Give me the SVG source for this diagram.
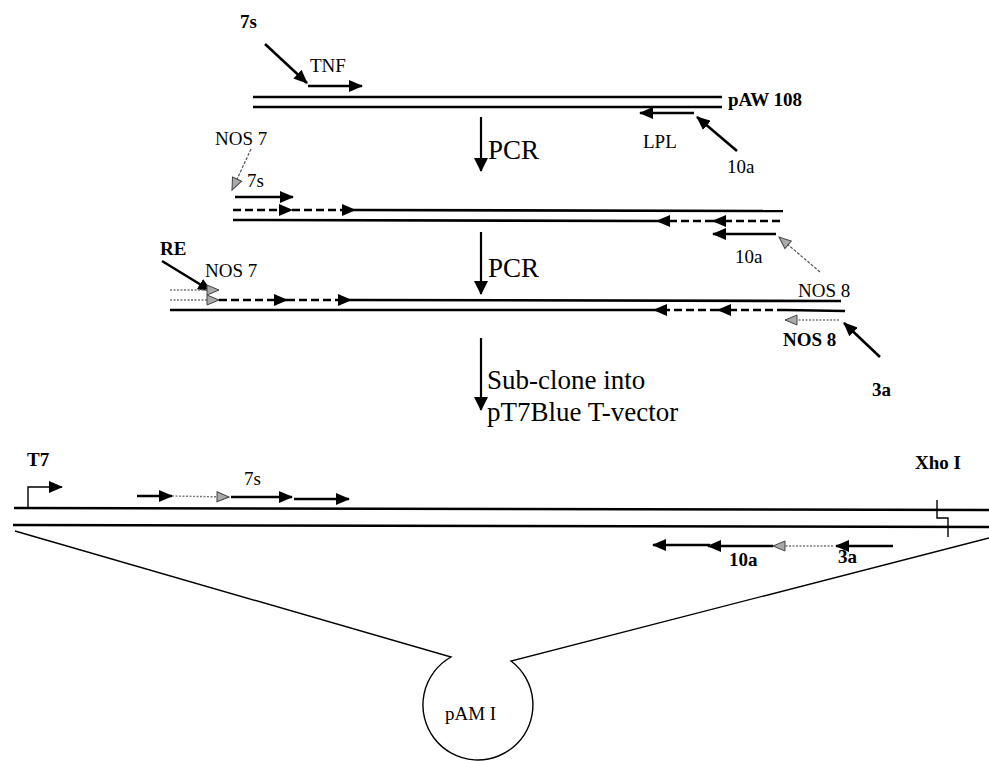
<svg xmlns="http://www.w3.org/2000/svg" width="989" height="761" viewBox="0 0 989 761">
<style>
  .strand{stroke:#000;stroke-width:2.6;fill:none}
  .arr{stroke:#000;stroke-width:2.6;fill:none;marker-end:url(#hb)}
  .dash{stroke:#000;stroke-width:2.6;fill:none;stroke-dasharray:8 4;marker-end:url(#hb)}
  .gray{stroke:#777;stroke-width:1.4;fill:none;stroke-dasharray:2 1.5;marker-end:url(#hg)}
  .thin{stroke:#555;stroke-width:1.2;fill:none;stroke-dasharray:3 1.5;marker-end:url(#hg)}
  .lbl{font-family:"Liberation Serif",serif;font-size:19px;font-weight:bold;fill:#000}
  .lblr{font-family:"Liberation Serif",serif;font-size:19px;fill:#000}
  .big{font-family:"Liberation Serif",serif;font-size:27px;fill:#000}
  .line{stroke:#000;stroke-width:1.4;fill:none}
</style>
<defs>
  <marker id="hb" markerUnits="userSpaceOnUse" markerWidth="14" markerHeight="12" refX="13" refY="6" orient="auto">
    <path d="M0,0 L14,6 L0,12 z" fill="#000"/>
  </marker>
  <marker id="hg" markerUnits="userSpaceOnUse" markerWidth="14" markerHeight="12" refX="13" refY="6" orient="auto">
    <path d="M1,1 L13,6 L1,11 z" fill="#aaa" stroke="#444" stroke-width="1"/>
  </marker>
  <marker id="hv" markerUnits="userSpaceOnUse" markerWidth="14" markerHeight="16" refX="13" refY="7" orient="auto">
    <path d="M0,0 L14,7 L0,14 z" fill="#000"/>
  </marker>
</defs>

<g id="connectors">
  <line x1="481" y1="117" x2="481" y2="171" stroke="#000" stroke-width="2.2" marker-end="url(#hv)"/>
  <line x1="481" y1="232" x2="481" y2="294" stroke="#000" stroke-width="2.2" marker-end="url(#hv)"/>
  <line x1="481" y1="338" x2="481" y2="410" stroke="#000" stroke-width="2.2" marker-end="url(#hv)"/>
</g>

<g id="stage1">
  <line class="strand" x1="253" y1="97" x2="722" y2="97"/>
  <line class="strand" x1="253" y1="107" x2="722" y2="107"/>
  <line class="arr" x1="308" y1="86" x2="362" y2="86"/>
  <line class="arr" x1="694" y1="113" x2="640" y2="113"/>
  <line class="arr" x1="265" y1="44" x2="307" y2="83"/>
  <line class="arr" x1="737" y1="151" x2="697" y2="117"/>
  <text class="lbl" x="240" y="28">7s</text>
  <text class="lblr" x="310" y="72">TNF</text>
  <text class="lbl" x="728" y="106">pAW 108</text>
  <text class="lblr" x="643" y="148">LPL</text>
  <text class="lblr" x="727" y="173">10a</text>
  <text class="big" x="488" y="159" font-size="29">PCR</text>
</g>

<g id="stage2">
  <line class="thin" x1="251" y1="149" x2="232" y2="190"/>
  <text class="lblr" x="215" y="145">NOS 7</text>
  <text class="lblr" x="247" y="187">7s</text>
  <line class="arr" x1="235" y1="197" x2="293" y2="197"/>
  <line class="dash" x1="233" y1="210" x2="292" y2="210"/>
  <line class="dash" x1="292" y1="210" x2="355" y2="210"/>
  <line class="strand" x1="355" y1="210" x2="783" y2="211"/>
  <line class="strand" x1="233" y1="220" x2="657" y2="221"/>
  <line class="dash" x1="713" y1="221" x2="657" y2="221"/>
  <line class="dash" x1="780" y1="221" x2="713" y2="221"/>
  <line class="arr" x1="776" y1="234" x2="713" y2="234"/>
  <line class="thin" x1="820" y1="272" x2="779" y2="237"/>
  <text class="lblr" x="735" y="263">10a</text>
  <text class="lblr" x="798" y="297">NOS 8</text>
  <text class="big" x="488" y="277" font-size="29">PCR</text>
</g>

<g id="stage3">
  <text class="lbl" x="160" y="255">RE</text>
  <line class="arr" x1="162" y1="261" x2="211" y2="291"/>
  <text class="lblr" x="205" y="277">NOS 7</text>
  <line class="gray" x1="170" y1="290" x2="219" y2="290"/>
  <line class="gray" x1="170" y1="300" x2="219" y2="300"/>
  <line class="dash" x1="219" y1="300" x2="287" y2="300"/>
  <line class="dash" x1="287" y1="300" x2="351" y2="300"/>
  <line class="strand" x1="351" y1="300" x2="841" y2="301"/>
  <line class="strand" x1="170" y1="310" x2="654" y2="310"/>
  <line class="dash" x1="718" y1="310" x2="654" y2="310"/>
  <line class="dash" x1="785" y1="310" x2="718" y2="310"/>
  <line class="strand" x1="785" y1="310" x2="845" y2="311"/>
  <line class="gray" x1="839" y1="320" x2="785" y2="320"/>
  <line class="arr" x1="880" y1="357" x2="844" y2="323"/>
  <text class="lbl" x="783" y="346">NOS 8</text>
  <text class="lbl" x="872" y="396">3a</text>
  <text class="big" x="487" y="389">Sub-clone into</text>
  <text class="big" x="487" y="421">pT7Blue T-vector</text>
</g>

<g id="vector">
  <line class="strand" x1="14" y1="508" x2="989" y2="510"/>
  <line class="strand" x1="13" y1="525" x2="989" y2="527"/>
  <polyline class="line" points="28,508 28,487 52,487" stroke-width="1.6"/>
  <line x1="50" y1="487" x2="62" y2="487" stroke="#000" stroke-width="1.6" marker-end="url(#hb)"/>
  <text class="lbl" x="27" y="466">T7</text>
  <line class="arr" x1="137" y1="496" x2="172" y2="496"/>
  <line class="gray" x1="172" y1="496" x2="229" y2="497"/>
  <line class="arr" x1="231" y1="497" x2="292" y2="497"/>
  <line class="arr" x1="294" y1="499" x2="349" y2="499"/>
  <text class="lblr" x="244" y="485">7s</text>
  <polyline class="line" points="937,500 937,518 948,518 948,537" stroke-width="1.6"/>
  <text class="lbl" x="915" y="469">Xho I</text>
  <line class="arr" x1="710" y1="545" x2="653" y2="545"/>
  <line class="arr" x1="773" y1="546" x2="708" y2="546"/>
  <line class="gray" x1="833" y1="546" x2="773" y2="546"/>
  <line class="arr" x1="893" y1="546" x2="836" y2="546"/>
  <text class="lbl" x="729" y="566">10a</text>
  <text class="lbl" x="838" y="563">3a</text>
</g>

<g id="pAMI">
  <path class="line" d="M15,531 L451,657 A55,55 0 1 0 511,661 L989,538"/>
  <text class="lblr" x="445" y="720" font-size="17">pAM I</text>
</g>
</svg>
